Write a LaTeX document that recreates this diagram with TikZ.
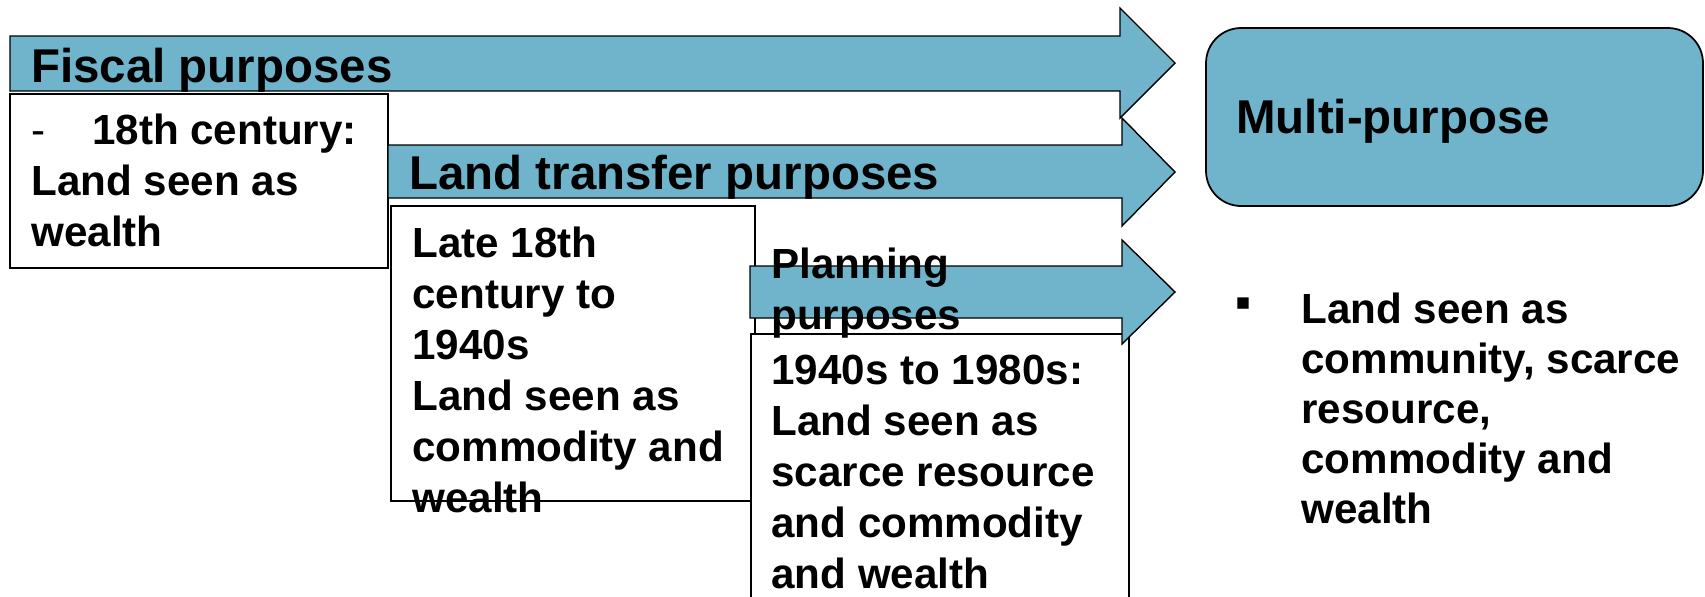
\documentclass[tikz,border=0pt]{standalone}
\usepackage{fontspec}
\setmainfont{Liberation Sans}
\newfontfamily\symfont{DejaVu Sans}
\definecolor{purposeblue}{RGB}{112,180,204}
\tikzset{
  blockarrow/.style={fill=purposeblue, draw=black, line width=0.8pt},
  periodbox/.style={fill=white, draw=black, line width=1pt},
  heading/.style={anchor=base west, inner sep=0pt, font=\fontsize{27}{32}\selectfont\bfseries},
  % multi-line text: placed at the baseline of its last line
  bodytext/.style={anchor=base west, inner sep=0pt, align=left, font=\fontsize{24}{29}\selectfont\bfseries},
}
\begin{document}
\begin{tikzpicture}[x=0.02cm,y=-0.02cm]
\clip (0,0) rectangle (1705,596);
% fiscal
\filldraw[blockarrow] (10,36)--(1120,36)--(1120,8)--(1175,63)--(1120,118)--(1120,91)--(10,91)--cycle;
\filldraw[periodbox] (10,94) rectangle (388,268);
% land transfer
\filldraw[blockarrow] (388,145)--(1122,145)--(1122,118)--(1175,172)--(1122,226)--(1122,198)--(388,198)--cycle;
\filldraw[periodbox] (391,206) rectangle (755,501);
% planning
\filldraw[periodbox] (751,334) rectangle (1129,620);
\filldraw[blockarrow] (750,266)--(1122,266)--(1122,240)--(1175,292)--(1122,344)--(1122,318)--(750,318)--cycle;
% multi-purpose
\filldraw[fill=purposeblue, draw=black, line width=1pt, rounded corners=20pt] (1206,28) rectangle (1703,206);
%
\node[heading] (fiscal) at (31,82) {Fiscal purposes};
\node[bodytext] (fiscaltext) at (31,246) {\makebox[34.6pt][l]{\mdseries -}18th century:\\Land seen as\\wealth};
\node[heading] (transfer) at (409,189) {Land transfer purposes};
\node[bodytext] (transfertext) at (412,512) {Late 18th\\century to\\1940s\\Land seen as\\commodity and\\wealth};
\node[bodytext] (planning) at (771,329) {Planning\\purposes};
\node[bodytext] (planningtext) at (771,588) {1940s to 1980s:\\Land seen as\\scarce resource\\and commodity\\and wealth};
\node[heading] (multi) at (1236,133) {Multi-purpose};
\node[anchor=base, inner sep=0pt, font=\symfont\fontsize{13}{13}\selectfont] (bullet) at (1243,309) {▪};
\node[bodytext, font=\fontsize{24}{28.4}\selectfont\bfseries] (multitext) at (1301,523) {Land seen as\\community, scarce\\resource,\\commodity and\\wealth};
\end{tikzpicture}
\end{document}
